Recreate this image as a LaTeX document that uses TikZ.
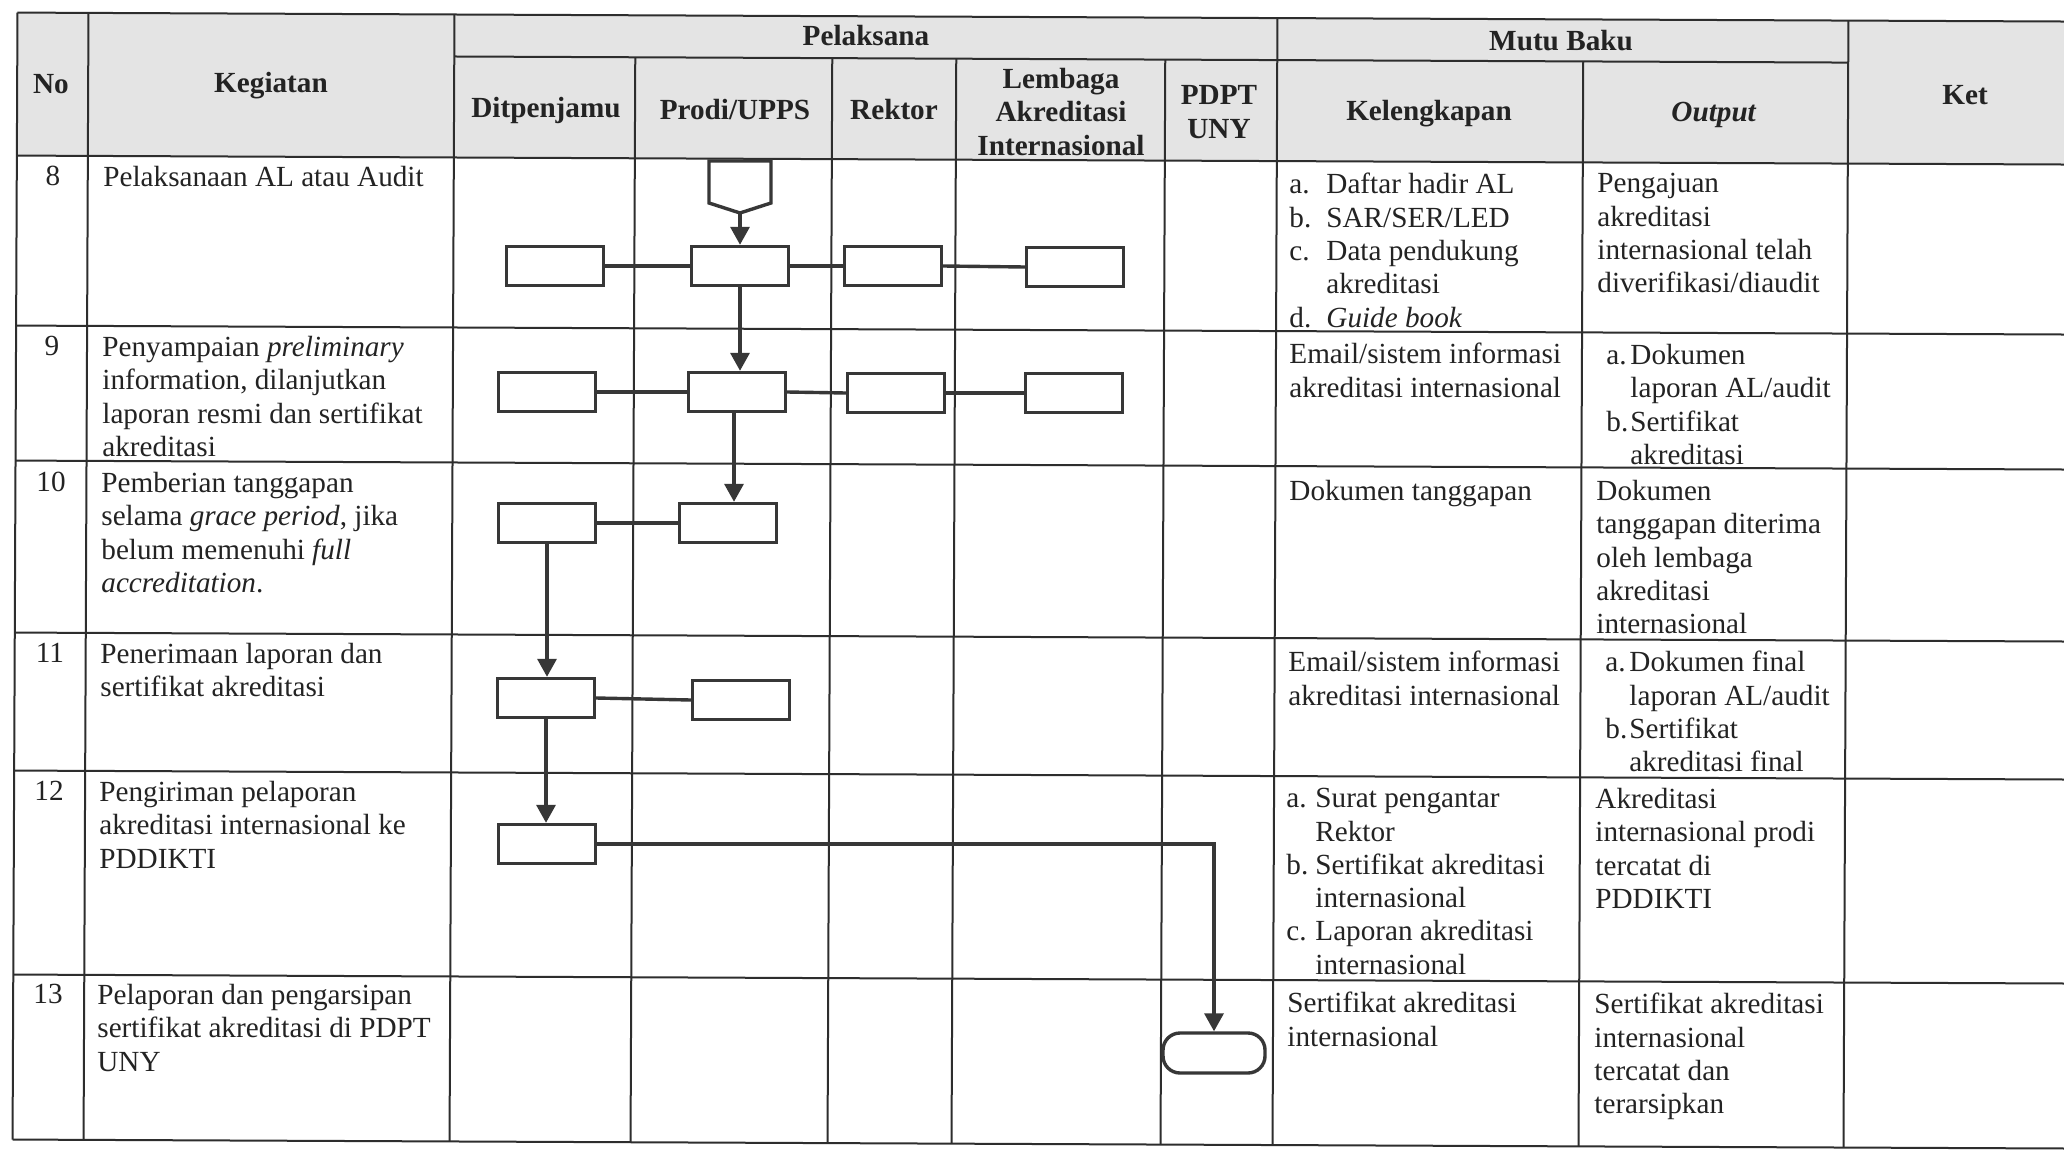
\documentclass[tikz,border=0pt]{standalone}
\usepackage{fontspec}
\setmainfont{Liberation Serif}
\usetikzlibrary{arrows.meta}
\definecolor{linec}{RGB}{45,45,45}
\definecolor{flowc}{RGB}{55,55,55}
\definecolor{txtc}{RGB}{35,35,35}
\definecolor{hdrfill}{RGB}{228,228,228}
\newcommand{\bodyf}{\fontsize{14.6pt}{16.65pt}\selectfont}
\begin{document}
\begin{tikzpicture}[x=0.5pt,y=-0.5pt,
  tl/.style={draw=linec, line width=1pt},
  fl/.style={draw=flowc, line width=1.7pt},
  arr/.style={fl, -{Triangle[length=9pt,width=9.5pt]}},
  bx/.style={draw=flowc, line width=1.7pt, rectangle, minimum width=48.5pt, minimum height=19.5pt, inner sep=0pt},
  term/.style={draw=flowc, line width=1.7pt, rectangle, rounded corners=8.5pt, minimum width=51pt, minimum height=20pt, inner sep=0pt},
  tx/.style={anchor=north west, inner sep=0pt, align=left, font=\bodyf, text=txtc},
  hd/.style={inner sep=0pt, align=center, font=\bodyf\bfseries, text=txtc},
  num/.style={anchor=north, inner sep=0pt, font=\bodyf, text=txtc}]

\useasboundingbox (0,0) rectangle (2064,1150);
\fill[white] (0,0) rectangle (2064,1150);

% table grid (slightly rotated, as in the scan)
\begin{scope}[rotate around={-0.25:(1032,575)}]
\fill[hdrfill] (15,17) rectangle (2090,160);
\draw[tl] (15,17) -- (2090,17);
\draw[tl] (452,59) -- (1846,59);
\foreach \yy in {160,330,465,637,775,979,1144} {\draw[tl] (15,\yy) -- (2090,\yy);}
\foreach \xx in {15,86,452,1275,1846} {\draw[tl] (\xx,17) -- (\xx,1144);}
\foreach \xx in {633,830,954,1163,1581} {\draw[tl] (\xx,59) -- (\xx,1144);}
\end{scope}

% header
\node[hd] (hNo) at (51,84) {No};
\node[hd] (hKeg) at (271,86) {Kegiatan};
\node[hd] (hPel) at (866,36) {Pelaksana};
\node[hd] (hMutu) at (1561,41) {Mutu Baku};
\node[hd] (hDit) at (546,110) {Ditpenjamu};
\node[hd] (hPro) at (735,110) {Prodi/UPPS};
\node[hd] (hRek) at (894,110) {Rektor};
\node[hd] (hLem) at (1061,112) {Lembaga\\Akreditasi\\Internasional};
\node[hd] (hPdpt) at (1219,112) {PDPT\\UNY};
\node[hd] (hKel) at (1429,114) {Kelengkapan};
\node[hd] (hOut) at (1714,115) {\textit{Output}};
\node[hd] (hKet) at (1965,95) {Ket};

% numbers
\node[num] (n8) at (53,166) {8};
\node[num] (n9) at (52,336) {9};
\node[num] (n10) at (51,472) {10};
\node[num] (n11) at (50,643) {11};
\node[num] (n12) at (49,781) {12};
\node[num] (n13) at (48,984) {13};

% kegiatan
\node[tx] (k8) at (103,166) {Pelaksanaan AL atau Audit};
\node[tx] (k9) at (102,336) {Penyampaian \textit{preliminary}\\information, dilanjutkan\\laporan resmi dan sertifikat\\akreditasi};
\node[tx] (k10) at (101,472) {Pemberian tanggapan\\selama \textit{grace period}, jika\\belum memenuhi \textit{full}\\\textit{accreditation}.};
\node[tx] (k11) at (100,643) {Penerimaan laporan dan\\sertifikat akreditasi};
\node[tx] (k12) at (99,781) {Pengiriman pelaporan\\akreditasi internasional ke\\PDDIKTI};
\node[tx] (k13) at (97,984) {Pelaporan dan pengarsipan\\sertifikat akreditasi di PDPT\\UNY};

% kelengkapan
\node[tx] (c8) at (1289,173) {\makebox[18.5pt][l]{a.}Daftar hadir AL\\\makebox[18.5pt][l]{b.}SAR/SER/LED\\\makebox[18.5pt][l]{c.}Data pendukung\\\hspace*{18.5pt}akreditasi\\\makebox[18.5pt][l]{d.}\textit{Guide book}};
\node[tx] (c9) at (1289,343) {Email/sistem informasi\\akreditasi internasional};
\node[tx] (c10) at (1289,480) {Dokumen tanggapan};
\node[tx] (c11) at (1288,651) {Email/sistem informasi\\akreditasi internasional};
\node[tx] (c12) at (1286,788) {\makebox[14.5pt][l]{a.}Surat pengantar\\\hspace*{14.5pt}Rektor\\\makebox[14.5pt][l]{b.}Sertifikat akreditasi\\\hspace*{14.5pt}internasional\\\makebox[14.5pt][l]{c.}Laporan akreditasi\\\hspace*{14.5pt}internasional};
\node[tx] (c13) at (1287,992) {Sertifikat akreditasi\\internasional};

% output
\node[tx] (o8) at (1597,173) {Pengajuan\\akreditasi\\internasional telah\\diverifikasi/diaudit};
\node[tx] (o9) at (1606,344) {\makebox[12pt][l]{a.}Dokumen\\\hspace*{12pt}laporan AL/audit\\\makebox[12pt][l]{b.}Sertifikat\\\hspace*{12pt}akreditasi};
\node[tx] (o10) at (1596,480) {Dokumen\\tanggapan diterima\\oleh lembaga\\akreditasi\\internasional};
\node[tx] (o11) at (1605,651) {\makebox[12pt][l]{a.}Dokumen final\\\hspace*{12pt}laporan AL/audit\\\makebox[12pt][l]{b.}Sertifikat\\\hspace*{12pt}akreditasi final};
\node[tx] (o12) at (1595,788) {Akreditasi\\internasional prodi\\tercatat di\\PDDIKTI};
\node[tx] (o13) at (1594,993) {Sertifikat akreditasi\\internasional\\tercatat dan\\terarsipkan};

% flow shapes
\draw[fl, fill=white] (709,161) -- (709,203) -- (740,213) -- (771,203) -- (771,161) -- cycle;
\coordinate (off) at (740,213);

\node[bx] (D8) at (555,266) {};
\node[bx] (P8) at (740,266) {};
\node[bx] (R8) at (893,266) {};
\node[bx] (L8) at (1075,267) {};

\node[bx] (D9) at (547,392) {};
\node[bx] (P9) at (737,392) {};
\node[bx] (R9) at (896,393) {};
\node[bx] (L9) at (1074,393) {};

\node[bx] (D10) at (547,523) {};
\node[bx] (P10) at (728,523) {};

\node[bx] (D11) at (546,698) {};
\node[bx] (P11) at (741,700) {};

\node[bx] (D12) at (547,844) {};

\node[term] (T) at (1214,1053) {};

% connectors
\draw[arr] (off) -- (P8.north);
\draw[fl] (D8.east) -- (P8.west);
\draw[fl] (P8.east) -- (R8.west);
\draw[fl] (R8.east) -- (L8.west);
\draw[arr] (P8.south) -- (P8.south |- P9.north);
\draw[fl] (D9.east) -- (P9.west);
\draw[fl] (P9.east) -- (R9.west);
\draw[fl] (R9.east) -- (L9.west);
\draw[arr] (P9.south -| P10.north) ++(6,0) coordinate (p9s) -- (p9s |- P10.north);
\draw[fl] (D10.east) -- (P10.west);
\draw[arr] (D10.south) -- (D10.south |- D11.north);
\draw[fl] (D11.east) -- (P11.west);
\draw[arr] (D11.south) -- (D11.south |- D12.north);
\draw[arr] (D12.east) -| (T.north);
\end{tikzpicture}
\end{document}
